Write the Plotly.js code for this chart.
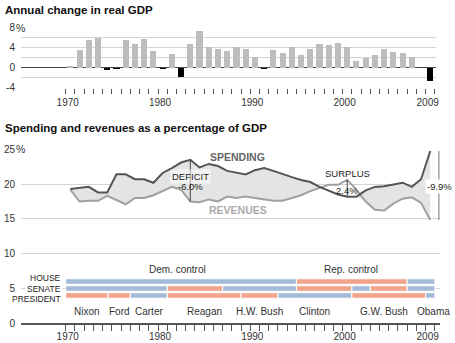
<!DOCTYPE html>
<html><head><meta charset="utf-8">
<script src="https://cdn.plot.ly/plotly-3.0.1.min.js"></script>
<style>html,body{margin:0;padding:0;background:#fff}#chart{width:455px;height:343px}</style>
</head><body><div id="chart"></div>
<script>
// ---------- DATA ----------
const years = [1970,1971,1972,1973,1974,1975,1976,1977,1978,1979,
               1980,1981,1982,1983,1984,1985,1986,1987,1988,1989,
               1990,1991,1992,1993,1994,1995,1996,1997,1998,1999,
               2000,2001,2002,2003,2004,2005,2006,2007,2008,2009];
const gdpChange = [0.3,3.5,5.5,5.9,-0.5,-0.2,5.5,4.8,5.7,3.3,
                   -0.3,2.7,-1.9,4.7,7.3,4.2,3.7,3.3,4.1,3.7,
                   2.1,-0.2,3.5,3.0,4.1,2.6,3.8,4.7,4.5,4.9,
                   4.1,1.3,1.9,2.6,3.7,3.2,2.9,2.1,0.0,-2.6];
const spending = [19.3,19.5,19.6,18.8,18.8,21.4,21.4,20.7,20.7,20.2,
                  21.6,22.3,23.1,23.5,22.4,22.9,22.6,21.9,21.6,21.4,
                  22.0,22.3,21.9,21.4,21.0,20.6,20.3,19.6,19.0,18.5,
                  18.2,18.2,19.1,19.6,19.7,19.9,20.2,19.6,20.7,24.75];
const revenues = [19.2,17.5,17.6,17.6,18.3,17.7,17.1,18.0,18.0,18.4,
                  19.0,19.6,19.2,17.5,17.4,17.8,17.5,18.2,18.0,18.2,
                  18.0,17.8,17.6,17.6,18.0,18.4,19.0,19.4,19.9,19.9,
                  20.6,19.2,17.5,16.3,16.2,17.2,17.9,18.1,17.3,14.85];
const houseStart = [1970,1995,2007];
const houseEnd   = [1995,2007,2010];
const houseParty = ['D','R','D'];
const senateStart = [1970,1981,1987,1995,2001,2003,2007];
const senateEnd   = [1981,1987,1995,2001,2003,2007,2010];
const senateParty = ['D','R','D','R','D','R','D'];
const presidents = ['Nixon','Ford','Carter','Reagan','H.W. Bush','Clinton','G.W. Bush','Obama'];
const presStart  = [1970,1974.6,1977,1981,1989,1993,2001,2009];
const presEnd    = [1974.6,1977,1981,1989,1993,2001,2009,2010];
const presParty  = ['R','R','D','R','R','D','R','D'];
const yearLabels = {1970:'1970',1980:'1980',1990:'1990',2000:'2000',2009:'2009'};
const gdpTicks = [-4,-2,0,2,4,6,8];
const gdpTickText = ['-4','','0','','4','','8'];
const shareTicks = [0,5,10,15,20,25];
const shareTickText = ['0','5','10','15','20','25'];
const rowNames = ['HOUSE','SENATE','PRESIDENT'];
const rowY = [6.5,5,3.5];
const controlLabels = ['Dem. control','Rep. control'];
const controlX = [1982.1,2000.9];
const deficitYears = [1983,2000];
const deficitNames = ['DEFICIT','SURPLUS'];

// ---------- LAYOUT GEOMETRY (pixels) ----------
const W = 455, H = 343;
const FONT = '"Liberation Sans", Arial, sans-serif';
const px = v => v / W, py = v => 1 - v / H;
const PLOT_L = 21, YEAR0_PX = 65.7, PX_PER_YEAR = 9.23;
const xr = p => 1970 + (p - YEAR0_PX) / PX_PER_YEAR;
const partyColor = p => p === 'D' ? '#a3bbd9' : '#f1a48a';
const presShift = {'G.W. Bush':-5, 'Obama':3};

const centers = years.map(y => y + 0.5);
const allYears = [];
for (let y = 1970; y <= 2010; y++) allYears.push(y);
const tickText = allYears.map(y => yearLabels[y] || '');

const traces = [];
traces.push({type:'bar', x:centers, y:gdpChange, width:0.66, xaxis:'x', yaxis:'y',
  marker:{color:gdpChange.map(v => v < 0 ? '#000' : '#bdbdbd')}, hoverinfo:'skip', showlegend:false});

const lowEdge = spending.map((s,i) => Math.min(s, revenues[i]));
traces.push({type:'scatter', mode:'lines', x:centers, y:lowEdge, xaxis:'x2', yaxis:'y2',
  line:{width:0, color:'rgba(0,0,0,0)'}, hoverinfo:'skip', showlegend:false});
traces.push({type:'scatter', mode:'lines', x:centers, y:spending, xaxis:'x2', yaxis:'y2',
  fill:'tonexty', fillcolor:'#e4e4e4', line:{width:0, color:'rgba(0,0,0,0)'}, hoverinfo:'skip', showlegend:false});
traces.push({type:'scatter', mode:'lines', x:centers, y:revenues, xaxis:'x2', yaxis:'y2',
  line:{width:2, color:'#a0a0a0'}, hoverinfo:'skip', showlegend:false});
traces.push({type:'scatter', mode:'lines', x:centers, y:spending, xaxis:'x2', yaxis:'y2',
  line:{width:2, color:'#555555'}, hoverinfo:'skip', showlegend:false});

deficitYears.forEach(yr => {
  const i = years.indexOf(yr);
  traces.push({type:'scatter', mode:'lines', x:[centers[i],centers[i]], y:[spending[i],revenues[i]],
    xaxis:'x2', yaxis:'y2', line:{width:1, color:'#444'}, hoverinfo:'skip', showlegend:false});
});
const L = years.length - 1;
const bx = centers[L] + 0.95;
traces.push({type:'scatter', mode:'lines', x:[bx,bx], y:[spending[L],revenues[L]],
  xaxis:'x2', yaxis:'y2', line:{width:1, color:'#444'}, hoverinfo:'skip', showlegend:false});

function rowTrace(starts, ends, parties, yv){
  return {type:'bar', orientation:'h', base:starts, x:starts.map((s,i)=>ends[i]-s),
    y:starts.map(()=>yv), width:0.8, xaxis:'x2', yaxis:'y2',
    marker:{color:parties.map(partyColor), line:{color:'#fff', width:1}},
    hoverinfo:'skip', showlegend:false};
}
traces.push(rowTrace(houseStart, houseEnd, houseParty, rowY[0]));
traces.push(rowTrace(senateStart, senateEnd, senateParty, rowY[1]));
traces.push(rowTrace(presStart, presEnd, presParty, rowY[2]));

const ann = [];
const txt = (o) => Object.assign({showarrow:false, font:{family:FONT, size:10, color:'#333'}}, o);
ann.push(txt({text:'<b>Annual change in real GDP</b>', xref:'paper', yref:'paper', x:px(3), y:py(10),
  xanchor:'left', yanchor:'middle', font:{family:FONT, size:11.5, color:'#111'}}));
ann.push(txt({text:'<b>Spending and revenues as a percentage of GDP</b>', xref:'paper', yref:'paper', x:px(3), y:py(128.3),
  xanchor:'left', yanchor:'middle', font:{family:FONT, size:11.5, color:'#111'}}));
ann.push(txt({text:'%', xref:'paper', yref:'y', x:px(15), y:8, xanchor:'left', yanchor:'middle', bgcolor:'#fff', borderpad:0, font:{family:FONT,size:10.5,color:'#333'}}));
ann.push(txt({text:'%', xref:'paper', yref:'y2', x:px(15), y:25, xanchor:'left', yanchor:'middle', bgcolor:'#fff', borderpad:0, font:{family:FONT,size:10.5,color:'#333'}}));
ann.push(txt({text:'<b>SPENDING</b>', xref:'x2', yref:'y2', x:xr(237.5), y:23.95, font:{family:FONT,size:10.5,color:'#666'}}));
ann.push(txt({text:'<b>REVENUES</b>', xref:'x2', yref:'y2', x:xr(238), y:16.3, font:{family:FONT,size:10.5,color:'#aaa'}}));
deficitYears.forEach((yr, k) => {
  const i = years.indexOf(yr);
  const d = (revenues[i] - spending[i]).toFixed(1);
  ann.push(txt({text:deficitNames[k], xref:'x2', yref:'y2', x:centers[i], y:k===0?21.15:21.55, font:{family:FONT,size:9.5,color:'#222'},
    bgcolor: k===0 ? 'rgba(255,255,255,0.55)' : 'rgba(0,0,0,0)'}));
  ann.push(txt({text:d + '%', xref:'x2', yref:'y2', x:centers[i], y:k===0?19.7:19.15, font:{family:FONT,size:9.5,color:'#222'}}));
});
ann.push(txt({text:(revenues[L]-spending[L]).toFixed(1) + '%', xref:'x2', yref:'y2', x:bx, y:19.6, bgcolor:'#fff', borderpad:1,
  font:{family:FONT,size:9.5,color:'#222'}}));
rowNames.forEach((n, k) => ann.push(txt({text:n, xref:'x2', yref:'y2', x:1970, xshift:-3, y:rowY[k], xanchor:'right',
  bgcolor:'#fff', borderpad:1, font:{family:FONT,size:8.5,color:'#222'}})));
controlLabels.forEach((c,k) => ann.push(txt({text:c, xref:'x2', yref:'y2', x:controlX[k], y:7.8, font:{family:FONT,size:10,color:'#333'}})));
presidents.forEach((p,k) => ann.push(txt({text:p, xref:'x2', yref:'y2', x:(presStart[k]+presEnd[k])/2, xshift:presShift[p]||0, y:1.75,
  font:{family:FONT,size:10,color:'#333'}})));

const axisFont = {family:FONT, size:10, color:'#333'};
const layout = {
  width:W, height:H, margin:{l:0,r:0,t:0,b:0}, paper_bgcolor:'#fff', plot_bgcolor:'rgba(0,0,0,0)',
  showlegend:false, bargap:0,
  xaxis:{domain:[px(PLOT_L), px(435.5)], range:[xr(PLOT_L), xr(435.5)], anchor:'y',
    tickmode:'array', tickvals:allYears, ticktext:tickText, ticks:'outside', ticklen:5, tickcolor:'#555', tickwidth:1,
    ticklabelshift:2, tickfont:axisFont, showgrid:false, zeroline:false, showline:false, fixedrange:true},
  yaxis:{domain:[py(87.7), py(27.7)], range:[-4,8], anchor:'x',
    tickmode:'array', tickvals:gdpTicks, ticktext:gdpTickText, ticks:'', ticklabelstandoff:5, tickfont:axisFont,
    showgrid:true, gridcolor:'#d4d4d4', gridwidth:1, zeroline:true, zerolinecolor:'#444', zerolinewidth:1.5, fixedrange:true},
  xaxis2:{domain:[px(PLOT_L), px(439.5)], range:[xr(PLOT_L), xr(439.5)], anchor:'y2',
    tickmode:'array', tickvals:allYears, ticktext:tickText, ticks:'outside', ticklen:6, tickcolor:'#555', tickwidth:1,
    ticklabelshift:2, ticklabelstandoff:-3, tickfont:axisFont, showgrid:false, zeroline:false, showline:true, linecolor:'#555', linewidth:1.5, fixedrange:true},
  yaxis2:{domain:[py(323.3), py(149.3)], range:[0,25], anchor:'x2', type:'linear',
    tickmode:'array', tickvals:shareTicks, ticktext:shareTickText, ticks:'', ticklabelstandoff:5, tickfont:axisFont,
    showgrid:true, gridcolor:'#d4d4d4', gridwidth:1, zeroline:false, fixedrange:true},
  annotations:ann
};
Plotly.newPlot('chart', traces, layout, {displayModeBar:false, staticPlot:true});
</script></body></html>
